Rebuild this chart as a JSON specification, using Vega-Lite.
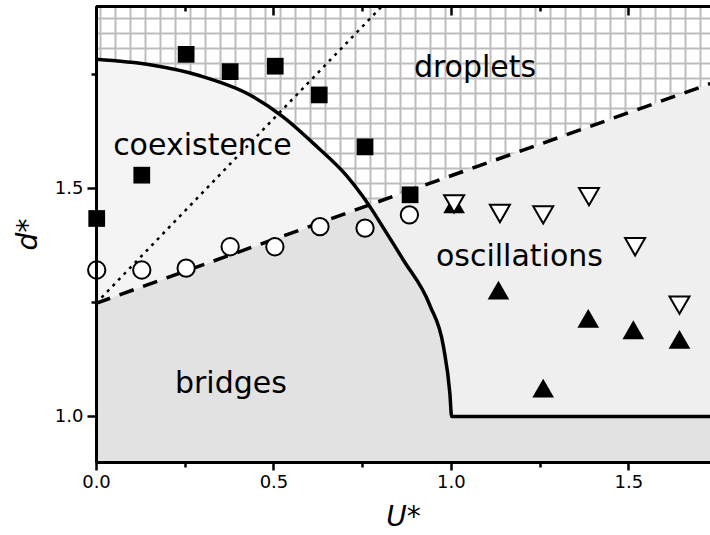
{
  "$schema": "https://vega.github.io/schema/vega-lite/v6.json",
  "width": 614,
  "height": 456,
  "autosize": {"type": "none"},
  "padding": {"left": 96, "top": 6, "right": 0, "bottom": 73},
  "background": "white",
  "config": {"font": "DejaVu Sans", "view": {"stroke": null}},
  "datasets": {
    "boundary": [
      {"u": 0.0, "d": 1.783}, {"u": 0.152, "d": 1.771}, {"u": 0.293, "d": 1.747},
      {"u": 0.434, "d": 1.705}, {"u": 0.527, "d": 1.657}, {"u": 0.622, "d": 1.592},
      {"u": 0.706, "d": 1.528}, {"u": 0.753, "d": 1.481}, {"u": 0.781, "d": 1.449},
      {"u": 0.810, "d": 1.413}, {"u": 0.866, "d": 1.343}, {"u": 0.941, "d": 1.243},
      {"u": 0.979, "d": 1.153}, {"u": 0.997, "d": 1.051}, {"u": 1.002, "d": 1.0},
      {"u": 1.75, "d": 1.0}
    ],
    "dashed": [
      {"u": 0.0, "d": 1.248}, {"u": 0.9, "d": 1.5}, {"u": 1.75, "d": 1.735}
    ],
    "dotted": [
      {"u": 0.0, "d": 1.248}, {"u": 0.815, "d": 1.907}
    ],
    "bricks": [
      {"u": 0.0, "d": 1.248}, {"u": 0.768, "d": 1.462}, {"u": 0.781, "d": 1.449},
      {"u": 0.810, "d": 1.413}, {"u": 0.866, "d": 1.343}, {"u": 0.941, "d": 1.243},
      {"u": 0.979, "d": 1.153}, {"u": 0.997, "d": 1.051}, {"u": 1.002, "d": 1.0},
      {"u": 1.75, "d": 1.0}
    ],
    "squares": [
      {"u": 0.002, "d": 1.434}, {"u": 0.129, "d": 1.529}, {"u": 0.254, "d": 1.794},
      {"u": 0.378, "d": 1.756}, {"u": 0.505, "d": 1.768}, {"u": 0.629, "d": 1.705},
      {"u": 0.758, "d": 1.591}, {"u": 0.885, "d": 1.486}
    ],
    "circles": [
      {"u": 0.002, "d": 1.321}, {"u": 0.129, "d": 1.321}, {"u": 0.254, "d": 1.325},
      {"u": 0.378, "d": 1.372}, {"u": 0.504, "d": 1.372}, {"u": 0.631, "d": 1.416},
      {"u": 0.758, "d": 1.413}, {"u": 0.883, "d": 1.442}
    ],
    "upTriangles": [
      {"u": 1.009, "d": 1.466}, {"u": 1.134, "d": 1.277}, {"u": 1.260, "d": 1.062},
      {"u": 1.387, "d": 1.215}, {"u": 1.514, "d": 1.190}, {"u": 1.644, "d": 1.169}
    ],
    "downTriangles": [
      {"u": 1.009, "d": 1.466}, {"u": 1.138, "d": 1.445}, {"u": 1.260, "d": 1.442},
      {"u": 1.389, "d": 1.482}, {"u": 1.519, "d": 1.372}, {"u": 1.644, "d": 1.244}
    ],
    "labels": [
      {"u": 1.068, "d": 1.744, "text": "droplets"},
      {"u": 0.300, "d": 1.573, "text": "coexistence"},
      {"u": 1.193, "d": 1.330, "text": "oscillations"},
      {"u": 0.380, "d": 1.051, "text": "bridges"}
    ]
  },
  "resolve": {"axis": {"x": "independent", "y": "independent"}},
  "layer": [
    {
      "data": {"name": "dashed"},
      "mark": {"type": "area", "fill": "#efefef", "stroke": null, "clip": true},
      "encoding": {
        "x": {"field": "u", "type": "quantitative", "scale": {"domain": [0, 1.73], "nice": false, "zero": false},
          "axis": {"orient": "bottom", "grid": true, "domain": false, "ticks": false, "labels": false, "title": null, "zindex": 0,
            "gridColor": "#bdbdbd", "gridWidth": 2,
            "values": [0.0112, 0.0535, 0.0957, 0.138, 0.1803, 0.2226, 0.2648, 0.3071, 0.3494, 0.3916, 0.4339, 0.4762, 0.5184, 0.5607, 0.603, 0.6453, 0.6875, 0.7298, 0.7721, 0.8143, 0.8566, 0.8989, 0.9411, 0.9834, 1.0257, 1.068, 1.1102, 1.1525, 1.1948, 1.237, 1.2793, 1.3216, 1.3638, 1.4061, 1.4484, 1.4907, 1.5329, 1.5752, 1.6175, 1.6597, 1.702]}},
        "y": {"field": "d", "type": "quantitative", "scale": {"domain": [0.9, 1.9], "nice": false, "zero": false},
          "axis": {"orient": "left", "grid": true, "domain": false, "ticks": false, "labels": false, "title": null, "zindex": 0,
            "gridColor": "#bdbdbd", "gridWidth": 2,
            "values": [1.8737, 1.8408, 1.8079, 1.775, 1.7421, 1.7092, 1.6763, 1.6434, 1.6105, 1.5776, 1.5447, 1.5118, 1.4789, 1.446, 1.4131, 1.3802, 1.3473, 1.3144, 1.2815, 1.2486, 1.2157, 1.1828, 1.1499, 1.117, 1.0841, 1.0512, 1.0183, 0.9854, 0.9525, 0.9196]}},
        "y2": {"datum": 0.9}
      }
    },
    {
      "data": {"name": "boundary"},
      "mark": {"type": "area", "fill": "#f4f4f4", "stroke": null, "clip": true, "interpolate": "monotone"},
      "encoding": {
        "x": {"field": "u", "type": "quantitative", "scale": {"domain": [0, 1.73], "nice": false, "zero": false},
          "axis": {"orient": "bottom", "title": null, "labels": false, "values": [0.25, 0.75, 1.25],
            "domainColor": "black", "domainWidth": 3, "tickColor": "black", "tickWidth": 2.5, "tickSize": 5}},
        "y": {"field": "d", "type": "quantitative", "scale": {"domain": [0.9, 1.9], "nice": false, "zero": false},
          "axis": {"orient": "left", "title": null, "labels": false, "values": [1.25, 1.75],
            "domainColor": "black", "domainWidth": 3, "tickColor": "black", "tickWidth": 2.5, "tickSize": 5}},
        "y2": {"datum": 0.9}
      }
    },
    {
      "data": {"name": "bricks"},
      "mark": {"type": "area", "fill": "#e2e2e2", "stroke": null, "clip": true},
      "encoding": {
        "x": {"field": "u", "type": "quantitative", "scale": {"domain": [0, 1.73], "nice": false, "zero": false},
          "axis": {"orient": "top", "title": null, "labels": false, "values": [0.25, 0.75, 1.25],
            "domainColor": "black", "domainWidth": 3, "tickColor": "black", "tickWidth": 2.5, "tickSize": -5}},
        "y": {"field": "d", "type": "quantitative", "scale": {"domain": [0.9, 1.9], "nice": false, "zero": false}, "axis": null},
        "y2": {"datum": 0.9}
      }
    },
    {
      "data": {"name": "boundary"},
      "mark": {"type": "line", "color": "black", "strokeWidth": 3.5, "clip": true, "interpolate": "monotone"},
      "encoding": {
        "x": {"field": "u", "type": "quantitative", "scale": {"domain": [0, 1.73], "nice": false, "zero": false},
          "axis": {"orient": "bottom", "title": "U*", "values": [0, 0.5, 1, 1.5], "format": ".1f",
            "labelFlush": false, "labelOverlap": false, "labelFontSize": 18, "labelColor": "black", "labelPadding": 3,
            "domainColor": "black", "domainWidth": 3, "tickColor": "black", "tickWidth": 2.5, "tickSize": 8,
            "titleFontSize": 28, "titleFontStyle": "italic", "titleFontWeight": "normal", "titleColor": "black", "titlePadding": 12}},
        "y": {"field": "d", "type": "quantitative", "scale": {"domain": [0.9, 1.9], "nice": false, "zero": false},
          "axis": {"orient": "left", "title": "d*", "values": [1, 1.5], "format": ".1f",
            "labelFlush": false, "labelOverlap": false, "labelFontSize": 18, "labelColor": "black", "labelPadding": 4,
            "domainColor": "black", "domainWidth": 3, "tickColor": "black", "tickWidth": 2.5, "tickSize": 9,
            "titleFontSize": 28, "titleFontStyle": "italic", "titleFontWeight": "normal", "titleColor": "black", "titlePadding": 12}}
      }
    },
    {
      "data": {"name": "dashed"},
      "mark": {"type": "line", "color": "black", "strokeWidth": 3.5, "strokeDash": [15, 10], "clip": true},
      "encoding": {
        "x": {"field": "u", "type": "quantitative", "scale": {"domain": [0, 1.73], "nice": false, "zero": false},
          "axis": {"orient": "top", "zindex": 1, "title": null, "labels": false, "ticks": false, "values": [],
            "domainColor": "black", "domainWidth": 3}},
        "y": {"field": "d", "type": "quantitative", "scale": {"domain": [0.9, 1.9], "nice": false, "zero": false}, "axis": null}
      }
    },
    {
      "data": {"name": "dotted"},
      "mark": {"type": "line", "color": "black", "strokeWidth": 2.5, "strokeDash": [3, 5], "clip": true},
      "encoding": {
        "x": {"field": "u", "type": "quantitative", "scale": {"domain": [0, 1.73], "nice": false, "zero": false},
          "axis": {"orient": "top", "title": null, "labels": false, "values": [0.5, 1, 1.5],
            "domainColor": "black", "domainWidth": 3, "tickColor": "black", "tickWidth": 2.5, "tickSize": -9}},
        "y": {"field": "d", "type": "quantitative", "scale": {"domain": [0.9, 1.9], "nice": false, "zero": false}, "axis": null}
      }
    },
    {
      "data": {"name": "squares"},
      "mark": {"type": "point", "shape": "square", "filled": true, "color": "black", "size": 280, "opacity": 1},
      "encoding": {
        "x": {"field": "u", "type": "quantitative", "scale": {"domain": [0, 1.73], "nice": false, "zero": false},
          "axis": {"orient": "bottom", "zindex": 1, "title": null, "labels": false, "ticks": false, "values": [],
            "domainColor": "black", "domainWidth": 3}},
        "y": {"field": "d", "type": "quantitative", "scale": {"domain": [0.9, 1.9], "nice": false, "zero": false},
          "axis": {"orient": "left", "zindex": 1, "title": null, "labels": false, "ticks": false, "values": [],
            "domainColor": "black", "domainWidth": 3}}
      }
    },
    {
      "data": {"name": "circles"},
      "mark": {"type": "point", "shape": "circle", "filled": false, "fill": "white", "stroke": "black", "strokeWidth": 2, "size": 300, "opacity": 1, "fillOpacity": 1},
      "encoding": {
        "x": {"field": "u", "type": "quantitative", "scale": {"domain": [0, 1.73], "nice": false, "zero": false}, "axis": null},
        "y": {"field": "d", "type": "quantitative", "scale": {"domain": [0.9, 1.9], "nice": false, "zero": false}, "axis": null}
      }
    },
    {
      "data": {"name": "upTriangles"},
      "mark": {"type": "point", "shape": "triangle-up", "filled": true, "color": "black", "size": 470, "opacity": 1},
      "encoding": {
        "x": {"field": "u", "type": "quantitative", "scale": {"domain": [0, 1.73], "nice": false, "zero": false}, "axis": null},
        "y": {"field": "d", "type": "quantitative", "scale": {"domain": [0.9, 1.9], "nice": false, "zero": false}, "axis": null}
      }
    },
    {
      "data": {"name": "downTriangles"},
      "mark": {"type": "point", "shape": "triangle-down", "filled": false, "fill": "white", "stroke": "black", "strokeWidth": 2, "size": 400, "opacity": 1, "fillOpacity": 1},
      "encoding": {
        "x": {"field": "u", "type": "quantitative", "scale": {"domain": [0, 1.73], "nice": false, "zero": false}, "axis": null},
        "y": {"field": "d", "type": "quantitative", "scale": {"domain": [0.9, 1.9], "nice": false, "zero": false}, "axis": null}
      }
    },
    {
      "data": {"name": "labels"},
      "mark": {"type": "text", "fontSize": 30, "color": "black", "align": "center", "baseline": "alphabetic", "font": "DejaVu Sans"},
      "encoding": {
        "x": {"field": "u", "type": "quantitative", "scale": {"domain": [0, 1.73], "nice": false, "zero": false}, "axis": null},
        "y": {"field": "d", "type": "quantitative", "scale": {"domain": [0.9, 1.9], "nice": false, "zero": false}, "axis": null},
        "text": {"field": "text", "type": "nominal"}
      }
    }
  ]
}
